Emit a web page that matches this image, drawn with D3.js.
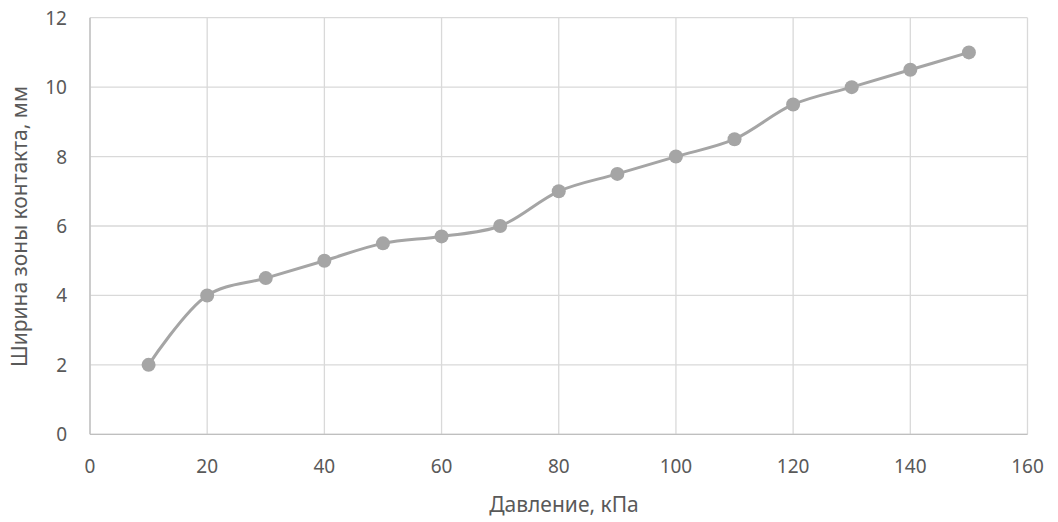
<!DOCTYPE html>
<html><head><meta charset="utf-8">
<script src="https://cdn.jsdelivr.net/npm/d3@7"></script>
<style>body{margin:0;background:#fff}svg{display:block}text{font-family:"Noto Sans","Open Sans",sans-serif}</style>
</head><body>
<script>
const pressure = [10,20,30,40,50,60,70,80,90,100,110,120,130,140,150];
const width_mm = [2,4,4.5,5,5.5,5.7,6,7,7.5,8,8.5,9.5,10,10.5,11];
const xTicks = [0,20,40,60,80,100,120,140,160];
const yTicks = [0,2,4,6,8,10,12];
const xTitle = "Давление, кПа";
const yTitle = "Ширина зоны контакта, мм";

const W=1058,H=522;
const m={left:90,right:1027.5,top:17.7,bottom:434.3};
const svg=d3.select("body").append("svg").attr("width",W).attr("height",H);
const x=d3.scaleLinear().domain([0,160]).range([m.left,m.right]);
const y=d3.scaleLinear().domain([0,12]).range([m.bottom,m.top]);

svg.append("g").selectAll("line").data(yTicks).join("line")
 .attr("x1",m.left).attr("x2",m.right).attr("y1",d=>y(d)).attr("y2",d=>y(d))
 .attr("stroke","#D9D9D9").attr("stroke-width",1.3);
svg.append("g").selectAll("line").data(xTicks).join("line")
 .attr("y1",m.top).attr("y2",m.bottom).attr("x1",d=>x(d)).attr("x2",d=>x(d))
 .attr("stroke","#D9D9D9").attr("stroke-width",1.3);
svg.append("line").attr("x1",m.left).attr("x2",m.right).attr("y1",y(0)).attr("y2",y(0)).attr("stroke","#BFBFBF").attr("stroke-width",1.3);
svg.append("line").attr("x1",x(0)).attr("x2",x(0)).attr("y1",m.top).attr("y2",m.bottom).attr("stroke","#BFBFBF").attr("stroke-width",1.3);

svg.append("g").selectAll("text").data(xTicks).join("text")
 .attr("x",d=>x(d)).attr("y",473).attr("text-anchor","middle")
 .attr("font-size",19).attr("fill","#595959").text(d=>d);
svg.append("g").selectAll("text").data(yTicks).join("text")
 .attr("x",67).attr("y",d=>y(d)+7).attr("text-anchor","end")
 .attr("font-size",19).attr("fill","#595959").text(d=>d);

svg.append("text").attr("x",564).attr("y",512).attr("text-anchor","middle")
 .attr("font-size",21).attr("fill","#595959").text(xTitle);
svg.append("text").attr("transform",`translate(27,226.5) rotate(-90)`)
 .attr("text-anchor","middle").attr("font-size",21).attr("fill","#595959").text(yTitle);

const data=pressure.map((p,i)=>({p,v:width_mm[i]}));
svg.append("path").datum(data)
 .attr("d",d3.line().x(d=>x(d.p)).y(d=>y(d.v)).curve(d3.curveCatmullRom.alpha(0.5)))
 .attr("fill","none").attr("stroke","#A5A5A5").attr("stroke-width",3).attr("stroke-linejoin","round");
svg.append("g").selectAll("circle").data(data).join("circle")
 .attr("cx",d=>x(d.p)).attr("cy",d=>y(d.v)).attr("r",7).attr("fill","#A5A5A5");
</script>
</body></html>
